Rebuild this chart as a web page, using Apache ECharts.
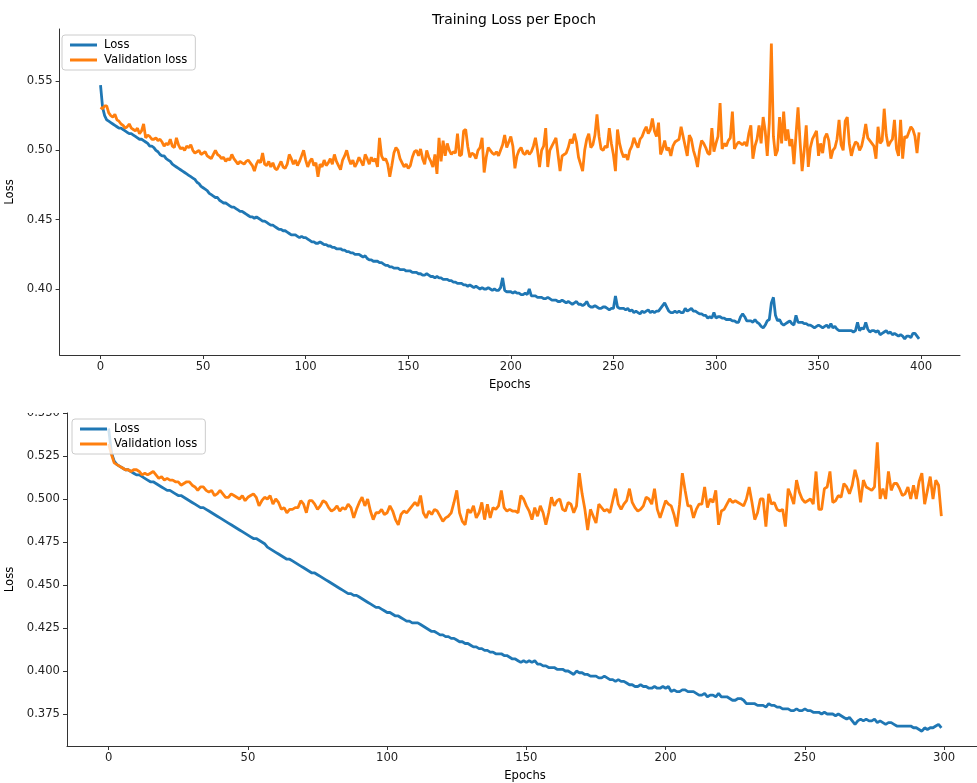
<!DOCTYPE html>
<html>
<head>
<meta charset="utf-8">
<title>Training Loss per Epoch</title>
<script src="https://cdn.jsdelivr.net/npm/echarts@6/dist/echarts.min.js"></script>
<style>
  html, body { margin: 0; padding: 0; background: #fff; }
  #chart { width: 977px; height: 783px; }
</style>
</head>
<body>
<div id="chart"></div>
<script>
// ---- data ----
// top run: 400 epochs
const topLoss = [
  0.547, 0.531, 0.525, 0.522, 0.521, 0.520, 0.519, 0.518, 0.517, 0.516,
  0.516, 0.515, 0.514, 0.513, 0.512, 0.512, 0.511, 0.510, 0.509, 0.508,
  0.508, 0.507, 0.506, 0.505, 0.503, 0.503, 0.502, 0.500, 0.499, 0.497,
  0.496, 0.496, 0.494, 0.493, 0.492, 0.490, 0.489, 0.488, 0.487, 0.486,
  0.485, 0.484, 0.483, 0.482, 0.481, 0.480, 0.479, 0.477, 0.476, 0.474,
  0.473, 0.472, 0.471, 0.469, 0.468, 0.467, 0.466, 0.466, 0.464, 0.463,
  0.462, 0.462, 0.461, 0.460, 0.459, 0.459, 0.458, 0.457, 0.456, 0.456,
  0.455, 0.454, 0.453, 0.452, 0.452, 0.451, 0.452, 0.451, 0.450, 0.449,
  0.449, 0.448, 0.447, 0.446, 0.446, 0.445, 0.444, 0.443, 0.443, 0.442,
  0.442, 0.441, 0.440, 0.439, 0.439, 0.439, 0.438, 0.437, 0.438, 0.437,
  0.437, 0.436, 0.435, 0.434, 0.434, 0.433, 0.433, 0.434, 0.433, 0.432,
  0.432, 0.431, 0.431, 0.430, 0.430, 0.429, 0.429, 0.429, 0.428, 0.428,
  0.427, 0.427, 0.426, 0.426, 0.425, 0.425, 0.425, 0.424, 0.423, 0.424,
  0.422, 0.421, 0.421, 0.420, 0.420, 0.420, 0.419, 0.419, 0.418, 0.417,
  0.417, 0.416, 0.416, 0.415, 0.415, 0.415, 0.414, 0.414, 0.414, 0.413,
  0.413, 0.413, 0.412, 0.412, 0.412, 0.411, 0.411, 0.410, 0.410, 0.411,
  0.410, 0.409, 0.409, 0.408, 0.409, 0.408, 0.408, 0.407, 0.407, 0.407,
  0.406, 0.406, 0.405, 0.405, 0.404, 0.404, 0.404, 0.403, 0.403, 0.402,
  0.403, 0.402, 0.401, 0.402, 0.401, 0.400, 0.401, 0.400, 0.400, 0.401,
  0.400, 0.399, 0.400, 0.399, 0.399, 0.401, 0.408, 0.399, 0.398, 0.398,
  0.398, 0.397, 0.398, 0.397, 0.397, 0.396, 0.396, 0.397, 0.396, 0.400,
  0.395, 0.395, 0.395, 0.394, 0.394, 0.394, 0.393, 0.393, 0.394, 0.393,
  0.392, 0.392, 0.392, 0.391, 0.391, 0.392, 0.391, 0.390, 0.391, 0.390,
  0.389, 0.390, 0.391, 0.389, 0.389, 0.388, 0.389, 0.391, 0.388, 0.387,
  0.387, 0.388, 0.387, 0.386, 0.386, 0.387, 0.387, 0.386, 0.385, 0.386,
  0.386, 0.395, 0.387, 0.386, 0.386, 0.386, 0.385, 0.386, 0.384, 0.385,
  0.383, 0.384, 0.383, 0.382, 0.384, 0.383, 0.384, 0.385, 0.383, 0.384,
  0.383, 0.384, 0.384, 0.386, 0.388, 0.390, 0.387, 0.384, 0.383, 0.383,
  0.384, 0.383, 0.384, 0.383, 0.383, 0.386, 0.384, 0.385, 0.386, 0.384,
  0.384, 0.383, 0.382, 0.382, 0.381, 0.381, 0.379, 0.380, 0.379, 0.383,
  0.379, 0.380, 0.380, 0.379, 0.379, 0.378, 0.378, 0.378, 0.377, 0.377,
  0.376, 0.376, 0.380, 0.382, 0.380, 0.377, 0.377, 0.377, 0.376, 0.378,
  0.376, 0.375, 0.373, 0.372, 0.374, 0.377, 0.378, 0.390, 0.394, 0.381,
  0.377, 0.378, 0.375, 0.374, 0.375, 0.376, 0.377, 0.375, 0.374, 0.381,
  0.376, 0.376, 0.376, 0.375, 0.375, 0.374, 0.374, 0.373, 0.372, 0.373,
  0.374, 0.373, 0.372, 0.373, 0.374, 0.372, 0.375, 0.372, 0.373, 0.371,
  0.370, 0.370, 0.370, 0.370, 0.370, 0.370, 0.370, 0.369, 0.370, 0.376,
  0.370, 0.372, 0.371, 0.376, 0.371, 0.369, 0.370, 0.370, 0.369, 0.370,
  0.367, 0.368, 0.369, 0.370, 0.368, 0.369, 0.367, 0.368, 0.367, 0.366,
  0.367, 0.366, 0.364, 0.366, 0.366, 0.365, 0.368, 0.368, 0.366, 0.364
];
const topValLoss = [
  0.531, 0.530, 0.532, 0.532, 0.527, 0.525, 0.524, 0.526, 0.522, 0.521,
  0.519, 0.518, 0.516, 0.517, 0.519, 0.516, 0.515, 0.514, 0.516, 0.512,
  0.514, 0.519, 0.509, 0.511, 0.510, 0.508, 0.508, 0.509, 0.507, 0.508,
  0.506, 0.503, 0.505, 0.504, 0.508, 0.503, 0.502, 0.509, 0.504, 0.501,
  0.502, 0.500, 0.503, 0.502, 0.504, 0.500, 0.498, 0.499, 0.500, 0.497,
  0.498, 0.499, 0.496, 0.495, 0.494, 0.497, 0.500, 0.497, 0.496, 0.494,
  0.495, 0.492, 0.494, 0.493, 0.497, 0.494, 0.492, 0.490, 0.492, 0.491,
  0.490, 0.492, 0.493, 0.491, 0.489, 0.485, 0.490, 0.493, 0.491, 0.498,
  0.490, 0.489, 0.492, 0.488, 0.491, 0.487, 0.486, 0.489, 0.492, 0.488,
  0.487, 0.490, 0.497, 0.494, 0.490, 0.493, 0.489, 0.492, 0.496, 0.500,
  0.493, 0.488, 0.492, 0.494, 0.489, 0.491, 0.481, 0.490, 0.488, 0.493,
  0.489, 0.491, 0.494, 0.490, 0.497, 0.492, 0.489, 0.486, 0.493, 0.496,
  0.500, 0.494, 0.490, 0.493, 0.488, 0.491, 0.495, 0.492, 0.489, 0.497,
  0.494, 0.490, 0.495, 0.492, 0.494, 0.488, 0.509, 0.496, 0.493, 0.494,
  0.490, 0.481, 0.489, 0.498, 0.502, 0.500, 0.494, 0.491, 0.488, 0.490,
  0.487, 0.489, 0.495, 0.499, 0.500, 0.496, 0.501, 0.494, 0.490, 0.500,
  0.495, 0.492, 0.488, 0.497, 0.483, 0.509, 0.492, 0.507, 0.496, 0.505,
  0.500, 0.497, 0.499, 0.498, 0.512, 0.496, 0.497, 0.514, 0.515, 0.503,
  0.495, 0.498, 0.497, 0.494, 0.500, 0.502, 0.509, 0.484, 0.495, 0.502,
  0.500, 0.498, 0.497, 0.499, 0.496, 0.500, 0.504, 0.511, 0.502, 0.506,
  0.510, 0.503, 0.487, 0.496, 0.500, 0.502, 0.498, 0.497, 0.500, 0.497,
  0.499, 0.503, 0.509, 0.500, 0.488, 0.500, 0.503, 0.516, 0.488, 0.500,
  0.503, 0.506, 0.509, 0.497, 0.485, 0.496, 0.497, 0.498, 0.502, 0.508,
  0.505, 0.512, 0.506, 0.495, 0.490, 0.485, 0.500, 0.508, 0.512, 0.502,
  0.504, 0.511, 0.526, 0.510, 0.501, 0.500, 0.503, 0.502, 0.516, 0.505,
  0.497, 0.485, 0.515, 0.505, 0.499, 0.495, 0.497, 0.493, 0.500, 0.503,
  0.509, 0.505, 0.502, 0.508, 0.510, 0.514, 0.517, 0.512, 0.515, 0.523,
  0.514, 0.510, 0.520, 0.497, 0.501, 0.507, 0.500, 0.502, 0.496, 0.503,
  0.506, 0.507, 0.508, 0.517, 0.510, 0.503, 0.496, 0.511, 0.508, 0.500,
  0.495, 0.488, 0.500, 0.507, 0.505, 0.502, 0.498, 0.497, 0.516, 0.499,
  0.505, 0.510, 0.534, 0.501, 0.505, 0.503, 0.507, 0.509, 0.528, 0.501,
  0.504, 0.506, 0.505, 0.504, 0.506, 0.503, 0.512, 0.518, 0.494, 0.503,
  0.508, 0.518, 0.505, 0.524, 0.514, 0.496, 0.520, 0.577, 0.510, 0.496,
  0.500, 0.524, 0.505, 0.528, 0.507, 0.515, 0.503, 0.508, 0.490, 0.511,
  0.531, 0.506, 0.485, 0.500, 0.518, 0.488, 0.502, 0.508, 0.511, 0.514,
  0.496, 0.505, 0.498, 0.509, 0.512, 0.507, 0.494, 0.500, 0.502, 0.508,
  0.522, 0.504, 0.500, 0.521, 0.524, 0.505, 0.496, 0.502, 0.506, 0.505,
  0.500, 0.503, 0.510, 0.519, 0.509, 0.507, 0.505, 0.503, 0.494, 0.517,
  0.505, 0.507, 0.530, 0.511, 0.503, 0.506, 0.508, 0.522, 0.501, 0.496,
  0.522, 0.494, 0.510, 0.509, 0.513, 0.517, 0.515, 0.510, 0.498, 0.513
];
// bottom run: 300 epochs
const bottomLoss = [
  0.541, 0.527, 0.522, 0.520, 0.519, 0.518, 0.517, 0.517, 0.516, 0.515,
  0.514, 0.514, 0.513, 0.512, 0.511, 0.510, 0.510, 0.509, 0.508, 0.507,
  0.506, 0.505, 0.505, 0.504, 0.503, 0.502, 0.502, 0.501, 0.500, 0.499,
  0.498, 0.497, 0.496, 0.495, 0.495, 0.494, 0.493, 0.492, 0.491, 0.490,
  0.489, 0.488, 0.487, 0.486, 0.485, 0.484, 0.483, 0.482, 0.481, 0.480,
  0.479, 0.478, 0.477, 0.477, 0.476, 0.475, 0.474, 0.472, 0.471, 0.470,
  0.469, 0.468, 0.467, 0.466, 0.465, 0.465, 0.464, 0.463, 0.462, 0.461,
  0.460, 0.459, 0.458, 0.457, 0.457, 0.456, 0.455, 0.454, 0.453, 0.452,
  0.451, 0.450, 0.449, 0.448, 0.447, 0.446, 0.445, 0.445, 0.444, 0.444,
  0.443, 0.442, 0.441, 0.440, 0.439, 0.438, 0.437, 0.437, 0.436, 0.435,
  0.434, 0.434, 0.433, 0.432, 0.432, 0.431, 0.430, 0.429, 0.429, 0.428,
  0.428, 0.428, 0.427, 0.426, 0.425, 0.424, 0.423, 0.423, 0.422, 0.421,
  0.421, 0.420, 0.420, 0.419, 0.419, 0.418, 0.417, 0.417, 0.416, 0.416,
  0.415, 0.414, 0.414, 0.413, 0.413, 0.412, 0.412, 0.411, 0.411, 0.410,
  0.410, 0.410, 0.409, 0.409, 0.408, 0.407, 0.407, 0.406, 0.405, 0.406,
  0.405, 0.406, 0.405, 0.406, 0.404, 0.404, 0.403, 0.403, 0.402, 0.402,
  0.402, 0.401, 0.401, 0.401, 0.400, 0.400, 0.399, 0.398, 0.400, 0.399,
  0.399, 0.398, 0.398, 0.397, 0.397, 0.397, 0.396, 0.396, 0.397, 0.396,
  0.395, 0.395, 0.394, 0.395, 0.394, 0.394, 0.393, 0.392, 0.392, 0.391,
  0.391, 0.392, 0.391, 0.391, 0.390, 0.390, 0.391, 0.390, 0.390, 0.391,
  0.390, 0.391, 0.388, 0.389, 0.388, 0.388, 0.389, 0.389, 0.388, 0.388,
  0.388, 0.387, 0.386, 0.386, 0.387, 0.385, 0.386, 0.386, 0.385, 0.387,
  0.385, 0.385, 0.385, 0.384, 0.383, 0.383, 0.384, 0.384, 0.383, 0.381,
  0.381, 0.381, 0.381, 0.380, 0.380, 0.380, 0.379, 0.381, 0.380, 0.380,
  0.379, 0.379, 0.378, 0.378, 0.378, 0.377, 0.377, 0.378, 0.377, 0.377,
  0.378, 0.377, 0.377, 0.376, 0.376, 0.376, 0.375, 0.376, 0.375, 0.375,
  0.375, 0.374, 0.375, 0.374, 0.373, 0.372, 0.373, 0.371, 0.369, 0.371,
  0.372, 0.371, 0.372, 0.371, 0.371, 0.372, 0.370, 0.371, 0.370, 0.369,
  0.370, 0.370, 0.369, 0.368, 0.368, 0.368, 0.368, 0.368, 0.368, 0.367,
  0.367, 0.366, 0.365, 0.367, 0.366, 0.367, 0.367, 0.368, 0.369, 0.367
];
const bottomValLoss = [
  0.532, 0.526, 0.521, 0.520, 0.519, 0.518, 0.517, 0.517, 0.516, 0.517,
  0.517, 0.516, 0.514, 0.515, 0.514, 0.515, 0.516, 0.514, 0.512, 0.513,
  0.511, 0.512, 0.511, 0.511, 0.510, 0.510, 0.508, 0.509, 0.510, 0.510,
  0.508, 0.507, 0.505, 0.507, 0.507, 0.505, 0.504, 0.505, 0.502, 0.503,
  0.505, 0.503, 0.501, 0.501, 0.503, 0.502, 0.501, 0.500, 0.502, 0.499,
  0.501, 0.502, 0.503, 0.501, 0.496, 0.499, 0.501, 0.500, 0.502, 0.497,
  0.500, 0.498, 0.494, 0.495, 0.492, 0.494, 0.494, 0.495, 0.495, 0.499,
  0.497, 0.492, 0.499, 0.499, 0.497, 0.494, 0.496, 0.499, 0.498, 0.495,
  0.493, 0.494, 0.496, 0.493, 0.495, 0.494, 0.497, 0.495, 0.489, 0.494,
  0.498, 0.501, 0.496, 0.500, 0.493, 0.488, 0.492, 0.492, 0.494, 0.491,
  0.492, 0.496, 0.493, 0.488, 0.485, 0.491, 0.493, 0.492, 0.494, 0.496,
  0.498, 0.496, 0.502, 0.492, 0.489, 0.493, 0.491, 0.494, 0.493, 0.490,
  0.487, 0.489, 0.490, 0.492, 0.498, 0.505, 0.492, 0.487, 0.485, 0.494,
  0.492, 0.496, 0.489, 0.492, 0.498, 0.488, 0.497, 0.489, 0.495, 0.494,
  0.496, 0.505, 0.495, 0.493, 0.494, 0.493, 0.493, 0.492, 0.502, 0.500,
  0.496, 0.493, 0.488, 0.495, 0.490, 0.496, 0.492, 0.485, 0.492, 0.501,
  0.496, 0.499, 0.500, 0.494, 0.493, 0.498, 0.497, 0.492, 0.496, 0.515,
  0.503, 0.494, 0.482, 0.494, 0.490, 0.486, 0.497, 0.495, 0.493, 0.494,
  0.492, 0.499, 0.506, 0.497, 0.494, 0.497, 0.499, 0.506, 0.498, 0.495,
  0.493, 0.494, 0.496, 0.501, 0.500, 0.497, 0.506, 0.494, 0.489, 0.494,
  0.499, 0.497, 0.496, 0.491, 0.484, 0.497, 0.515, 0.505, 0.496, 0.496,
  0.489, 0.494, 0.497, 0.497, 0.507, 0.495, 0.500, 0.498, 0.505, 0.485,
  0.493, 0.494, 0.497, 0.500, 0.498, 0.499, 0.498, 0.497, 0.496, 0.500,
  0.507, 0.498, 0.488, 0.492, 0.500, 0.500, 0.484, 0.503, 0.497, 0.498,
  0.494, 0.493, 0.494, 0.484, 0.506, 0.502, 0.497, 0.511, 0.504, 0.500,
  0.498, 0.499, 0.500, 0.497, 0.516, 0.494, 0.494, 0.506, 0.507, 0.516,
  0.498, 0.499, 0.502, 0.501, 0.509, 0.507, 0.503, 0.508, 0.517, 0.511,
  0.498, 0.511, 0.507, 0.506, 0.505, 0.507, 0.533, 0.500, 0.506, 0.500,
  0.516, 0.505, 0.509, 0.509, 0.506, 0.502, 0.503, 0.507, 0.500, 0.508,
  0.500, 0.510, 0.515, 0.497, 0.505, 0.513, 0.500, 0.511, 0.508, 0.490
];

const seriesNames = ['Loss', 'Validation loss'];
const topXTicks = [0, 50, 100, 150, 200, 250, 300, 350, 400];
const topYTicks = [0.40, 0.45, 0.50, 0.55];
const bottomXTicks = [0, 50, 100, 150, 200, 250, 300];
const bottomYTicks = [0.375, 0.400, 0.425, 0.450, 0.475, 0.500, 0.525, 0.550];

// ---- chart ----
const FONT = 'DejaVu Sans';
const BLUE = '#1f77b4';
const ORANGE = '#ff7f0e';

const pairs = arr => arr.map((v, i) => [i, v]);

function xAxisFor(gridIndex, min, max, ticks) {
  return {
    type: 'value', gridIndex, min, max,
    name: 'Epochs', nameLocation: 'middle', nameGap: 24,
    nameTextStyle: { fontFamily: FONT, fontSize: 11.6, color: '#000' },
    axisLine: { onZero: false, lineStyle: { color: '#333', width: 1 } },
    axisTick: { show: true, length: 4, customValues: ticks, lineStyle: { color: '#333' } },
    axisLabel: { customValues: ticks, margin: 6, fontFamily: FONT, fontSize: 11.6, color: '#222' },
    splitLine: { show: false }
  };
}

function yAxisFor(gridIndex, min, max, ticks, digits, gap) {
  return {
    type: 'value', gridIndex, min, max,
    name: 'Loss', nameLocation: 'middle', nameGap: gap,
    nameTextStyle: { fontFamily: FONT, fontSize: 11.6, color: '#000' },
    axisLine: { show: true, onZero: false, lineStyle: { color: '#333', width: 1 } },
    axisTick: { show: true, length: 4, customValues: ticks, lineStyle: { color: '#333' } },
    axisLabel: {
      customValues: ticks, margin: 7, fontFamily: FONT, fontSize: 11.6, color: '#222',
      formatter: v => v.toFixed(digits)
    },
    splitLine: { show: false }
  };
}

function legendFor(left, top) {
  return {
    data: seriesNames.map((n, i) => ({ name: n, itemStyle: { color: i ? ORANGE : BLUE } })),
    orient: 'vertical', left, top,
    icon: 'rect', itemWidth: 27, itemHeight: 3, itemGap: 3,
    padding: [4, 8, 4, 8],
    backgroundColor: 'rgba(255,255,255,0.8)',
    borderColor: '#cccccc', borderWidth: 1, borderRadius: 3,
    textStyle: { fontFamily: FONT, fontSize: 11.6, color: '#000', padding: [0, 0, 0, 2] }
  };
}

function lineSeries(name, data, color, idx) {
  return {
    name, type: 'line', data: pairs(data),
    xAxisIndex: idx, yAxisIndex: idx,
    showSymbol: false, symbol: 'none',
    lineStyle: { color, width: 2.8 },
    itemStyle: { color },
    emphasis: { disabled: true }
  };
}

const chart = echarts.init(document.getElementById('chart'), null, { renderer: 'canvas' });
chart.setOption({
  animation: false,
  backgroundColor: '#fff',
  title: {
    text: 'Training Loss per Epoch', left: 427, top: 8,
    textStyle: { fontFamily: FONT, fontSize: 13.9, fontWeight: 'normal', color: '#000' }
  },
  legend: [legendFor(62, 35), legendFor(72, 419)],
  grid: [
    { left: 59.6, top: 29, width: 900.4, height: 326, containLabel: false, outerBoundsMode: 'none' },
    { left: 67, top: 413, width: 916, height: 333, containLabel: false, outerBoundsMode: 'none' }
  ],
  xAxis: [
    xAxisFor(0, -19.95, 418.95, topXTicks),
    xAxisFor(1, -14.95, 313.95, bottomXTicks)
  ],
  yAxis: [
    yAxisFor(0, 0.3524, 0.5875, topYTicks, 2, 35),
    yAxisFor(1, 0.3564, 0.550, bottomYTicks, 3, 43)
  ],
  series: [
    lineSeries(seriesNames[0], topLoss, BLUE, 0),
    lineSeries(seriesNames[1], topValLoss, ORANGE, 0),
    lineSeries(seriesNames[0], bottomLoss, BLUE, 1),
    lineSeries(seriesNames[1], bottomValLoss, ORANGE, 1)
  ],
  // the lower panel is cut off at its top edge in the source image
  graphic: [{
    type: 'rect', left: 0, top: 398, z: 100,
    shape: { width: 66, height: 15 },
    style: { fill: '#fff' }
  }]
});
</script>
</body>
</html>
